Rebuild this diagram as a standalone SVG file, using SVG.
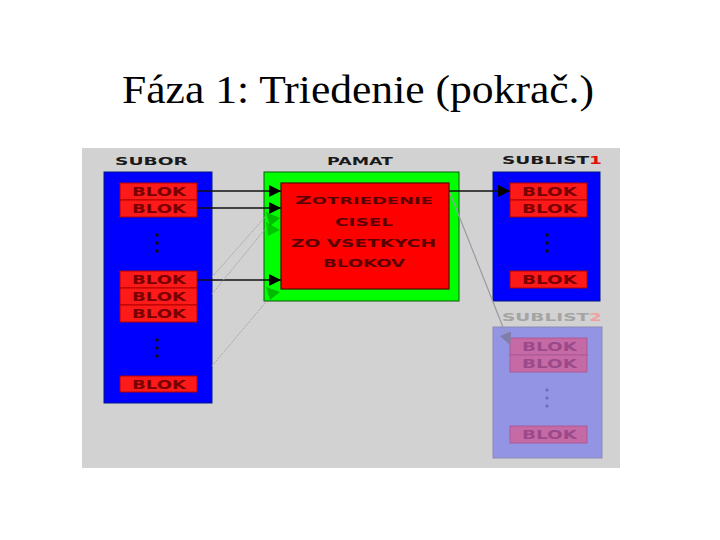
<svg xmlns="http://www.w3.org/2000/svg" width="720" height="540" viewBox="0 0 720 540">
<defs>
<style>
.title{font-family:"Liberation Serif","Times New Roman",serif;font-size:39px;fill:#000}
.lbl{font-family:"DejaVu Sans",sans-serif;font-weight:bold;font-size:10px;fill:#1a1a1a}
.blk{fill:#ff1a1a;stroke:#b00000;stroke-width:1}
.bt{font-family:"DejaVu Sans",sans-serif;font-weight:bold;font-size:12px;fill:#7a0000}
.mt{font-family:"DejaVu Sans",sans-serif;font-weight:bold;font-size:11px;fill:#5a0000}
.dot{fill:#111}
.arr{stroke:#111;stroke-width:1.3;fill:none}
.ghost{stroke:#a8a8a8;stroke-width:1;stroke-dasharray:2 1;fill:none}
</style>
<marker id="ah" viewBox="0 0 10 10" refX="10" refY="5" markerWidth="16" markerHeight="12" markerUnits="userSpaceOnUse" orient="auto">
<path d="M0,0 L10,5 L0,10 z" fill="#000"/>
</marker>
<marker id="gh" viewBox="0 0 10 10" refX="10" refY="5" markerWidth="16" markerHeight="12" markerUnits="userSpaceOnUse" orient="auto">
<path d="M0,0 L10,5 L0,10 z" fill="#7e7ea8"/>
</marker>
</defs>
<rect width="720" height="540" fill="#fff"/>
<text class="title" x="122" y="103" textLength="472" lengthAdjust="spacingAndGlyphs">Fáza 1: Triedenie (pokrač.)</text>
<rect x="82" y="148" width="538" height="320" fill="#d2d2d2"/>

<g id="subor">
<text class="lbl" x="115" y="165" textLength="73" lengthAdjust="spacingAndGlyphs">SUBOR</text>
<rect x="104" y="172" width="108" height="231" fill="#0000ff" stroke="#001a80" stroke-width="1"/>
<rect class="blk" x="120" y="183" width="77" height="17"/><text class="bt" x="132" y="196" textLength="54" lengthAdjust="spacingAndGlyphs">BLOK</text>
<rect class="blk" x="120" y="200" width="77" height="17"/><text class="bt" x="132" y="213" textLength="54" lengthAdjust="spacingAndGlyphs">BLOK</text>
<circle class="dot" cx="157" cy="235" r="1.8"/><circle class="dot" cx="157" cy="243" r="1.8"/><circle class="dot" cx="157" cy="251" r="1.8"/>
<rect class="blk" x="120" y="271" width="77" height="17"/><text class="bt" x="132" y="284" textLength="54" lengthAdjust="spacingAndGlyphs">BLOK</text>
<rect class="blk" x="120" y="288" width="77" height="17"/><text class="bt" x="132" y="301" textLength="54" lengthAdjust="spacingAndGlyphs">BLOK</text>
<rect class="blk" x="120" y="305" width="77" height="17"/><text class="bt" x="132" y="318" textLength="54" lengthAdjust="spacingAndGlyphs">BLOK</text>
<circle class="dot" cx="157" cy="340" r="1.8"/><circle class="dot" cx="157" cy="348" r="1.8"/><circle class="dot" cx="157" cy="356" r="1.8"/>
<rect class="blk" x="120" y="376" width="77" height="16"/><text class="bt" x="132" y="389" textLength="54" lengthAdjust="spacingAndGlyphs">BLOK</text>
</g>

<g id="pamat">
<text class="lbl" x="327" y="165" textLength="66" lengthAdjust="spacingAndGlyphs">PAMAT</text>
<rect x="264" y="172" width="195" height="129" fill="#00ff00" stroke="#0a5a0a" stroke-width="1"/>
<rect x="281" y="183" width="168" height="106" fill="#ff0000" stroke="#600000" stroke-width="1.2"/>
<text class="mt" x="295" y="204" textLength="138" lengthAdjust="spacingAndGlyphs">Z<tspan font-size="8.5">OTRIEDENIE</tspan></text>
<text class="mt" x="335" y="226" textLength="58" lengthAdjust="spacingAndGlyphs">CISEL</text>
<text class="mt" x="291" y="247" textLength="145" lengthAdjust="spacingAndGlyphs">ZO VSETKYCH</text>
<text class="mt" x="323" y="267" textLength="82" lengthAdjust="spacingAndGlyphs">BLOKOV</text>
</g>

<g id="sublist1">
<text class="lbl" x="502" y="164" textLength="100" lengthAdjust="spacingAndGlyphs">SUBLIST<tspan fill="#e01010">1</tspan></text>
<rect x="493" y="172" width="107" height="129" fill="#0000ff" stroke="#001a80" stroke-width="1"/>
<rect class="blk" x="510" y="183" width="77" height="17"/><text class="bt" x="522" y="196" textLength="55" lengthAdjust="spacingAndGlyphs">BLOK</text>
<rect class="blk" x="510" y="200" width="77" height="17"/><text class="bt" x="522" y="213" textLength="55" lengthAdjust="spacingAndGlyphs">BLOK</text>
<circle class="dot" cx="547" cy="235" r="1.8"/><circle class="dot" cx="547" cy="243" r="1.8"/><circle class="dot" cx="547" cy="251" r="1.8"/>
<rect class="blk" x="510" y="271" width="77" height="17"/><text class="bt" x="522" y="284" textLength="55" lengthAdjust="spacingAndGlyphs">BLOK</text>
</g>

<g id="sublist2">
<text class="lbl" x="502" y="321" textLength="100" lengthAdjust="spacingAndGlyphs" style="fill:#a4a4a4">SUBLIST<tspan style="fill:#f0a0a0">2</tspan></text>
<rect x="493" y="327" width="109" height="131" fill="#9494e4" stroke="#8a8ab8" stroke-width="1"/>
<rect x="510" y="338" width="77" height="17" fill="#c66aa6" stroke="#a85a96" stroke-width="1"/><text class="bt" x="522" y="351" textLength="55" lengthAdjust="spacingAndGlyphs" style="fill:#9a4a8a">BLOK</text>
<rect x="510" y="355" width="77" height="17" fill="#c66aa6" stroke="#a85a96" stroke-width="1"/><text class="bt" x="522" y="368" textLength="55" lengthAdjust="spacingAndGlyphs" style="fill:#9a4a8a">BLOK</text>
<circle cx="547" cy="390" r="1.6" fill="#6a6ab0"/><circle cx="547" cy="398" r="1.6" fill="#6a6ab0"/><circle cx="547" cy="406" r="1.6" fill="#6a6ab0"/>
<rect x="510" y="426" width="77" height="17" fill="#c66aa6" stroke="#a85a96" stroke-width="1"/><text class="bt" x="522" y="439" textLength="55" lengthAdjust="spacingAndGlyphs" style="fill:#9a4a8a">BLOK</text>
</g>

<g id="connectors">
<line class="arr" x1="197" y1="191" x2="281" y2="191" marker-end="url(#ah)"/>
<line class="arr" x1="197" y1="208" x2="281" y2="208" marker-end="url(#ah)"/>
<line class="arr" x1="197" y1="280" x2="281" y2="280" marker-end="url(#ah)"/>
<line class="arr" x1="449" y1="191" x2="510" y2="191" marker-end="url(#ah)"/>
<line class="ghost" x1="212" y1="277" x2="266" y2="216"/>
<line class="ghost" x1="212" y1="294" x2="266" y2="228"/>
<line class="ghost" x1="212" y1="366" x2="266" y2="302"/>
<path d="M266,212 L280,218 L270,226 z" fill="#00a000" opacity="0.7"/>
<path d="M266,222 L280,230 L268,236 z" fill="#00a000" opacity="0.6"/>
<path d="M266,287 L280,292 L270,300 z" fill="#00a000" opacity="0.7"/>
<line x1="450" y1="193" x2="510" y2="345" stroke="#9a9aa8" stroke-width="1.2" marker-end="url(#gh)"/>
</g>
</svg>
